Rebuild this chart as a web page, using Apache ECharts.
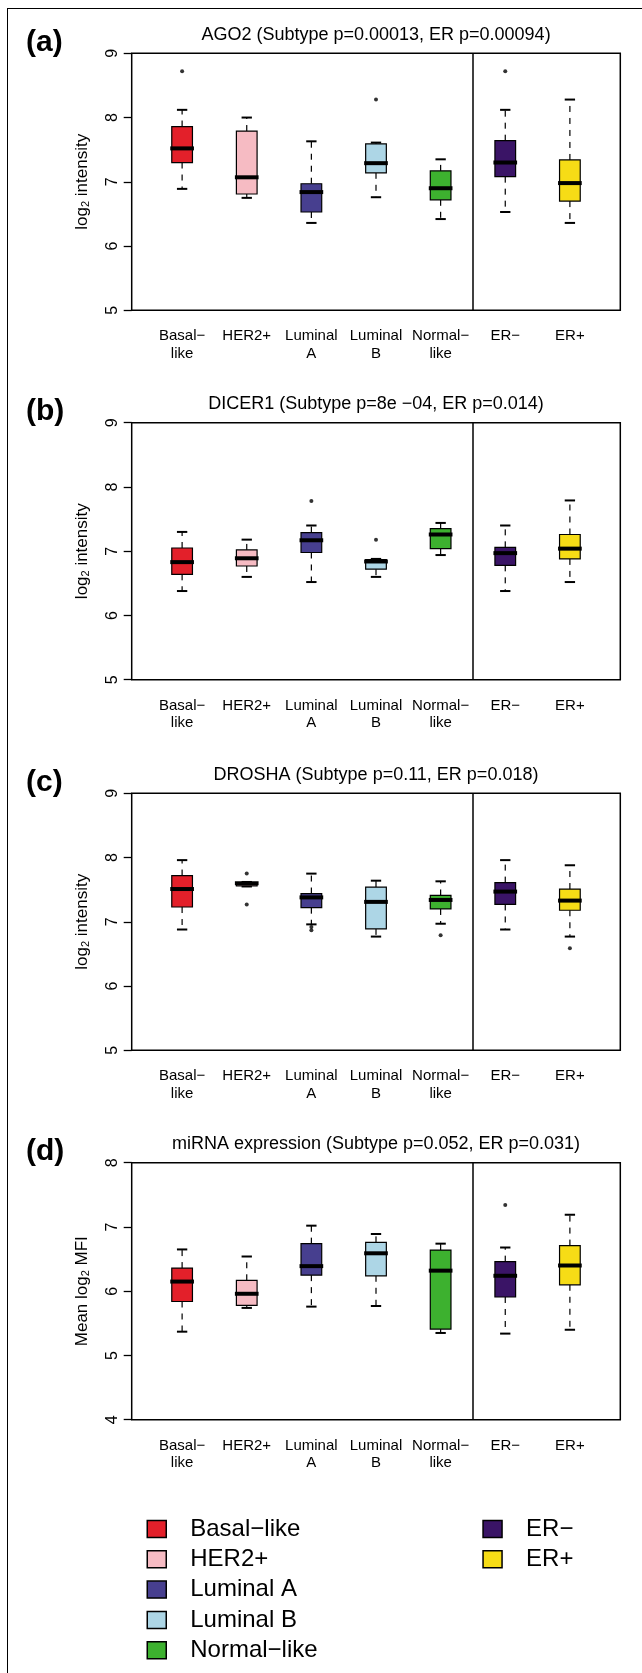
<!DOCTYPE html>
<html>
<head>
<meta charset="utf-8">
<script src="https://cdn.jsdelivr.net/npm/echarts@6/dist/echarts.min.js"></script>
<style>
  html, body { margin: 0; padding: 0; background: #fff; }
  #frame { position: absolute; left: 7px; top: 8px; width: 640px; height: 1670px;
           border-left: 1.5px solid #000; border-top: 1.5px solid #000; }
  #chart { position: absolute; left: 0; top: 0; width: 642px; height: 1673px; }
</style>
</head>
<body>
<div id="frame"></div>
<div id="chart"></div>
<script>
const categories = ['Basal−like', 'HER2+', 'Luminal A', 'Luminal B', 'Normal−like', 'ER−', 'ER+']
const tickLabels = ['Basal−\nlike', 'HER2+', 'Luminal\nA', 'Luminal\nB', 'Normal−\nlike', 'ER−', 'ER+']
const colors = ['#E3202A', '#F6BBC3', '#473F8F', '#ADD6E6', '#3DB12F', '#3A1466', '#F6DC16']

// per group: [lower whisker, Q1, median, Q3, upper whisker]
const ago2 = [
  [6.89, 7.30, 7.52, 7.86, 8.12],
  [6.75, 6.81, 7.07, 7.79, 8.00],
  [6.36, 6.53, 6.84, 6.97, 7.63],
  [6.76, 7.14, 7.29, 7.59, 7.61],
  [6.42, 6.72, 6.90, 7.17, 7.35],
  [6.53, 7.08, 7.30, 7.64, 8.12],
  [6.36, 6.70, 6.98, 7.34, 8.28]
]
const ago2Out = [[8.72], [], [], [8.28], [], [8.72], []]

const dicer1 = [
  [6.38, 6.64, 6.83, 7.05, 7.30],
  [6.60, 6.77, 6.89, 7.02, 7.18],
  [6.52, 6.98, 7.17, 7.29, 7.40],
  [6.60, 6.72, 6.84, 6.87, 6.88],
  [6.94, 7.04, 7.26, 7.35, 7.44],
  [6.38, 6.78, 6.97, 7.06, 7.40],
  [6.52, 6.88, 7.04, 7.26, 7.79]
]
const dicer1Out = [[], [], [7.78], [7.18], [], [], []]

const drosha = [
  [6.88, 7.23, 7.51, 7.72, 7.96],
  [7.55, 7.56, 7.60, 7.61, 7.62],
  [6.96, 7.22, 7.38, 7.44, 7.75],
  [6.77, 6.89, 7.31, 7.54, 7.64],
  [6.97, 7.20, 7.34, 7.41, 7.63],
  [6.88, 7.27, 7.47, 7.61, 7.96],
  [6.77, 7.18, 7.33, 7.51, 7.88]
]
const droshaOut = [[], [7.75, 7.27], [6.92, 6.87], [], [6.79], [], [6.59]]

const mirna = [
  [5.37, 5.84, 6.15, 6.36, 6.65],
  [5.74, 5.78, 5.96, 6.17, 6.54],
  [5.76, 6.25, 6.39, 6.74, 7.02],
  [5.77, 6.24, 6.59, 6.76, 6.89],
  [5.35, 5.41, 6.32, 6.64, 6.74],
  [5.34, 5.91, 6.24, 6.46, 6.68],
  [5.40, 6.10, 6.40, 6.71, 7.19]
]
const mirnaOut = [[], [], [], [], [], [7.34], []]

const panels = [
  {letter: '(a)', title: 'AGO2 (Subtype p=0.00013, ER p=0.00094)', stats: ago2, out: ago2Out, yMin: 5, yMax: 9, yName: 'log{s|2} intensity'},
  {letter: '(b)', title: 'DICER1 (Subtype p=8e −04, ER p=0.014)', stats: dicer1, out: dicer1Out, yMin: 5, yMax: 9, yName: 'log{s|2} intensity'},
  {letter: '(c)', title: 'DROSHA (Subtype p=0.11, ER p=0.018)', stats: drosha, out: droshaOut, yMin: 5, yMax: 9, yName: 'log{s|2} intensity'},
  {letter: '(d)', title: 'miRNA expression (Subtype p=0.052, ER p=0.031)', stats: mirna, out: mirnaOut, yMin: 4, yMax: 8, yName: 'Mean log{s|2} MFI'}
]

const gridTops = [53.3, 422.7, 793.3, 1162.7]
const plotLeft = 131.7
const plotWidth = 488.6
const plotHeight = 257
const boxWex = 0.32
const font = "'Liberation Sans', Arial, Helvetica, sans-serif"

function renderBox(params, api) {
  const x = api.value(0)
  const low = api.coord([x, api.value(1)])
  const q1 = api.coord([x, api.value(2)])
  const med = api.coord([x, api.value(3)])
  const q3 = api.coord([x, api.value(4)])
  const high = api.coord([x, api.value(5)])
  const hw = api.size([1, 0])[0] * boxWex / 2
  const sw = hw * 0.5
  const cx = med[0]
  const line = (y1, y2, dash) => ({
    type: 'line',
    shape: {x1: cx, y1: y1, x2: cx, y2: y2},
    style: {stroke: '#000', lineWidth: 1.2, lineDash: dash}
  })
  const staple = (y) => ({
    type: 'line',
    shape: {x1: cx - sw, y1: y, x2: cx + sw, y2: y},
    style: {stroke: '#000', lineWidth: 2}
  })
  return {
    type: 'group',
    children: [
      line(q3[1], high[1], [6, 6]),
      line(q1[1], low[1], [6, 6]),
      staple(high[1]),
      staple(low[1]),
      {
        type: 'rect',
        shape: {x: cx - hw, y: q3[1], width: hw * 2, height: q1[1] - q3[1]},
        style: {fill: api.visual('color'), stroke: '#000', lineWidth: 1.2}
      },
      {
        type: 'line',
        shape: {x1: cx - hw - 1.5, y1: med[1], x2: cx + hw + 1.5, y2: med[1]},
        style: {stroke: '#000', lineWidth: 4}
      }
    ]
  }
}

const grids = [], xAxes = [], yAxes = [], series = [], titles = []

panels.forEach((p, i) => {
  grids.push({
    left: plotLeft, top: gridTops[i], width: plotWidth, height: plotHeight,
    show: true, borderColor: '#000', borderWidth: 1.5, backgroundColor: 'transparent'
  })
  xAxes.push({
    type: 'value', gridIndex: i, min: 0.22, max: 7.78,
    axisLine: {show: false}, axisTick: {show: false}, splitLine: {show: false},
    axisLabel: {
      customValues: [1, 2, 3, 4, 5, 6, 7],
      formatter: v => tickLabels[Math.round(v) - 1],
      color: '#000', fontSize: 15, lineHeight: 17.5, margin: 17, fontFamily: font
    }
  })
  yAxes.push({
    type: 'value', gridIndex: i, min: p.yMin, max: p.yMax, interval: 1,
    axisLine: {show: false}, splitLine: {show: false},
    axisTick: {show: true, length: 8, lineStyle: {color: '#000', width: 1.3}},
    axisLabel: {rotate: 90, color: '#000', fontSize: 16, margin: 11, fontFamily: font},
    name: p.yName, nameLocation: 'middle', nameGap: 40,
    nameTextStyle: {
      color: '#000', fontSize: 17, fontFamily: font,
      rich: {s: {fontSize: 11, padding: [8, 0, 0, 0], color: '#000', fontFamily: font}}
    }
  })
  p.stats.forEach((s, k) => {
    const item = {
      name: categories[k],
      type: 'custom',
      xAxisIndex: i, yAxisIndex: i,
      itemStyle: {color: colors[k], borderColor: '#000', borderWidth: 1.2},
      renderItem: renderBox,
      data: [[k + 1].concat(s)]
    }
    if (k === 0) {
      item.markLine = {
        silent: true, symbol: 'none', label: {show: false},
        lineStyle: {color: '#000', width: 1.5, type: 'solid'},
        data: [{xAxis: 5.5}]
      }
    }
    series.push(item)
  })
  const pts = []
  p.out.forEach((vals, k) => vals.forEach(v => pts.push([k + 1, v])))
  series.push({
    name: 'outliers', type: 'scatter', xAxisIndex: i, yAxisIndex: i,
    symbolSize: 4, itemStyle: {color: '#000'}, data: pts
  })
  titles.push({
    text: p.title, left: 376, top: gridTops[i] - 28.5, textAlign: 'center', padding: 0,
    textStyle: {fontSize: 18, fontWeight: 'normal', color: '#000', lineHeight: 20, fontFamily: font}
  })
  titles.push({
    text: p.letter, left: 26, top: gridTops[i] - 27, padding: 0,
    textStyle: {fontSize: 30, fontWeight: 'bold', color: '#000', lineHeight: 32, fontFamily: font}
  })
})

const legendBase = {
  orient: 'vertical', top: 1517, height: 150, padding: 0,
  itemWidth: 19, itemHeight: 17, itemGap: 6.3,
  icon: 'rect', selectedMode: false,
  itemStyle: {borderColor: '#000', borderWidth: 1.5},
  textStyle: {fontSize: 24, color: '#000', lineHeight: 17, padding: [0, 0, 0, 19], fontFamily: font}
}

const chart = echarts.init(document.getElementById('chart'))
chart.setOption({
  animation: false,
  textStyle: {fontFamily: font},
  title: titles,
  grid: grids,
  xAxis: xAxes,
  yAxis: yAxes,
  legend: [
    Object.assign({}, legendBase, {left: 146.5, data: categories.slice(0, 5)}),
    Object.assign({}, legendBase, {left: 482.3, data: categories.slice(5)})
  ],
  series: series
})
</script>
</body>
</html>
